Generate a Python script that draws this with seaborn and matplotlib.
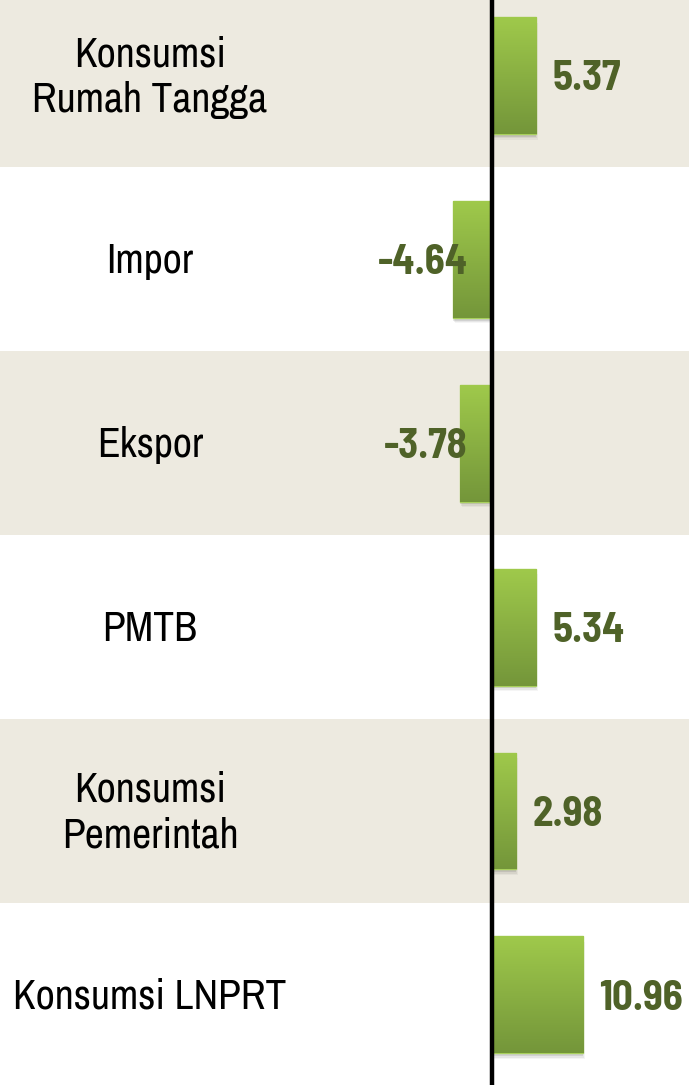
import numpy as np
import matplotlib.pyplot as plt
import seaborn as sns
from matplotlib.colors import LinearSegmentedColormap
from matplotlib.patches import Rectangle

categories = ["Konsumsi\nRumah Tangga", "Impor", "Ekspor", "PMTB",
              "Konsumsi\nPemerintah", "Konsumsi LNPRT"]
values = [5.37, -4.64, -3.78, 5.34, 2.98, 10.96]
labels = ["5.37", "-4.64", "-3.78", "5.34", "2.98", "10.96"]

beige = "#EDEAE0"
label_green = "#4F6228"
font = ["Archivo Narrow", "Liberation Sans", "DejaVu Sans"]
bold_font = ["Barlow Semi Condensed", "Fira Sans Condensed", "Liberation Sans", "DejaVu Sans"]

sns.set_style("white")
fig = plt.figure(figsize=(6.89, 10.85), dpi=100)
ax = fig.add_axes([0, 0, 1, 1])

sns.barplot(x=values, y=categories, orient="h", ax=ax, width=0.636,
            color="#8DB544", saturation=1, edgecolor="#A8D05C", linewidth=1)

ax.set_xlim(-59.0, 23.7)
ax.set_ylim(5.49, -0.41)
ax.axis("off")

# alternating row bands
for i in range(len(categories)):
    if i % 2 == 0:
        ax.axhspan(i - 0.5, i + 0.5, color=beige, zorder=0, lw=0)

# gradient fill + soft shadow on each bar
grad = LinearSegmentedColormap.from_list("g", ["#9FC94B", "#74963A"])
for p in ax.patches:
    if not isinstance(p, Rectangle) or p.get_height() > 0.9:
        continue
    x0, y0 = p.get_x(), p.get_y()
    w, h = p.get_width(), p.get_height()
    for k, a in enumerate([0.09, 0.06, 0.04]):
        sh = Rectangle((x0 - 0.12 * k, y0 + 0.015 + 0.008 * k), w + 0.24 * k, h,
                       facecolor="black", alpha=a, lw=0, zorder=1)
        ax.add_patch(sh)
    p.set_zorder(2)
    img = ax.imshow(np.linspace(0, 1, 100).reshape(-1, 1), cmap=grad,
                    extent=[x0, x0 + w, y0 + h, y0], aspect="auto", zorder=2.5)
    img.set_clip_path(p)

ax.axvline(0, color="black", lw=3.2, zorder=4)

# value labels
for i, (v, t) in enumerate(zip(values, labels)):
    if v >= 0:
        ax.text(v + 1.92, i + 0.02, t, ha="left", va="center", fontsize=29.5,
                fontweight="bold", color=label_green, family=bold_font, zorder=5)
    else:
        ax.text(-2.88, i + 0.02, t, ha="right", va="center", fontsize=29.5,
                fontweight="bold", color=label_green, family=bold_font, zorder=5)

# category labels
for i, c in enumerate(categories):
    ax.text(-41.0, i + 0.01, c, ha="center", va="center", fontsize=30,
            color="black", family=font, linespacing=1.25, zorder=5)

ax.set_xlim(-59.0, 23.7)
ax.set_ylim(5.49, -0.41)
fig.savefig("out.png", dpi=100)
